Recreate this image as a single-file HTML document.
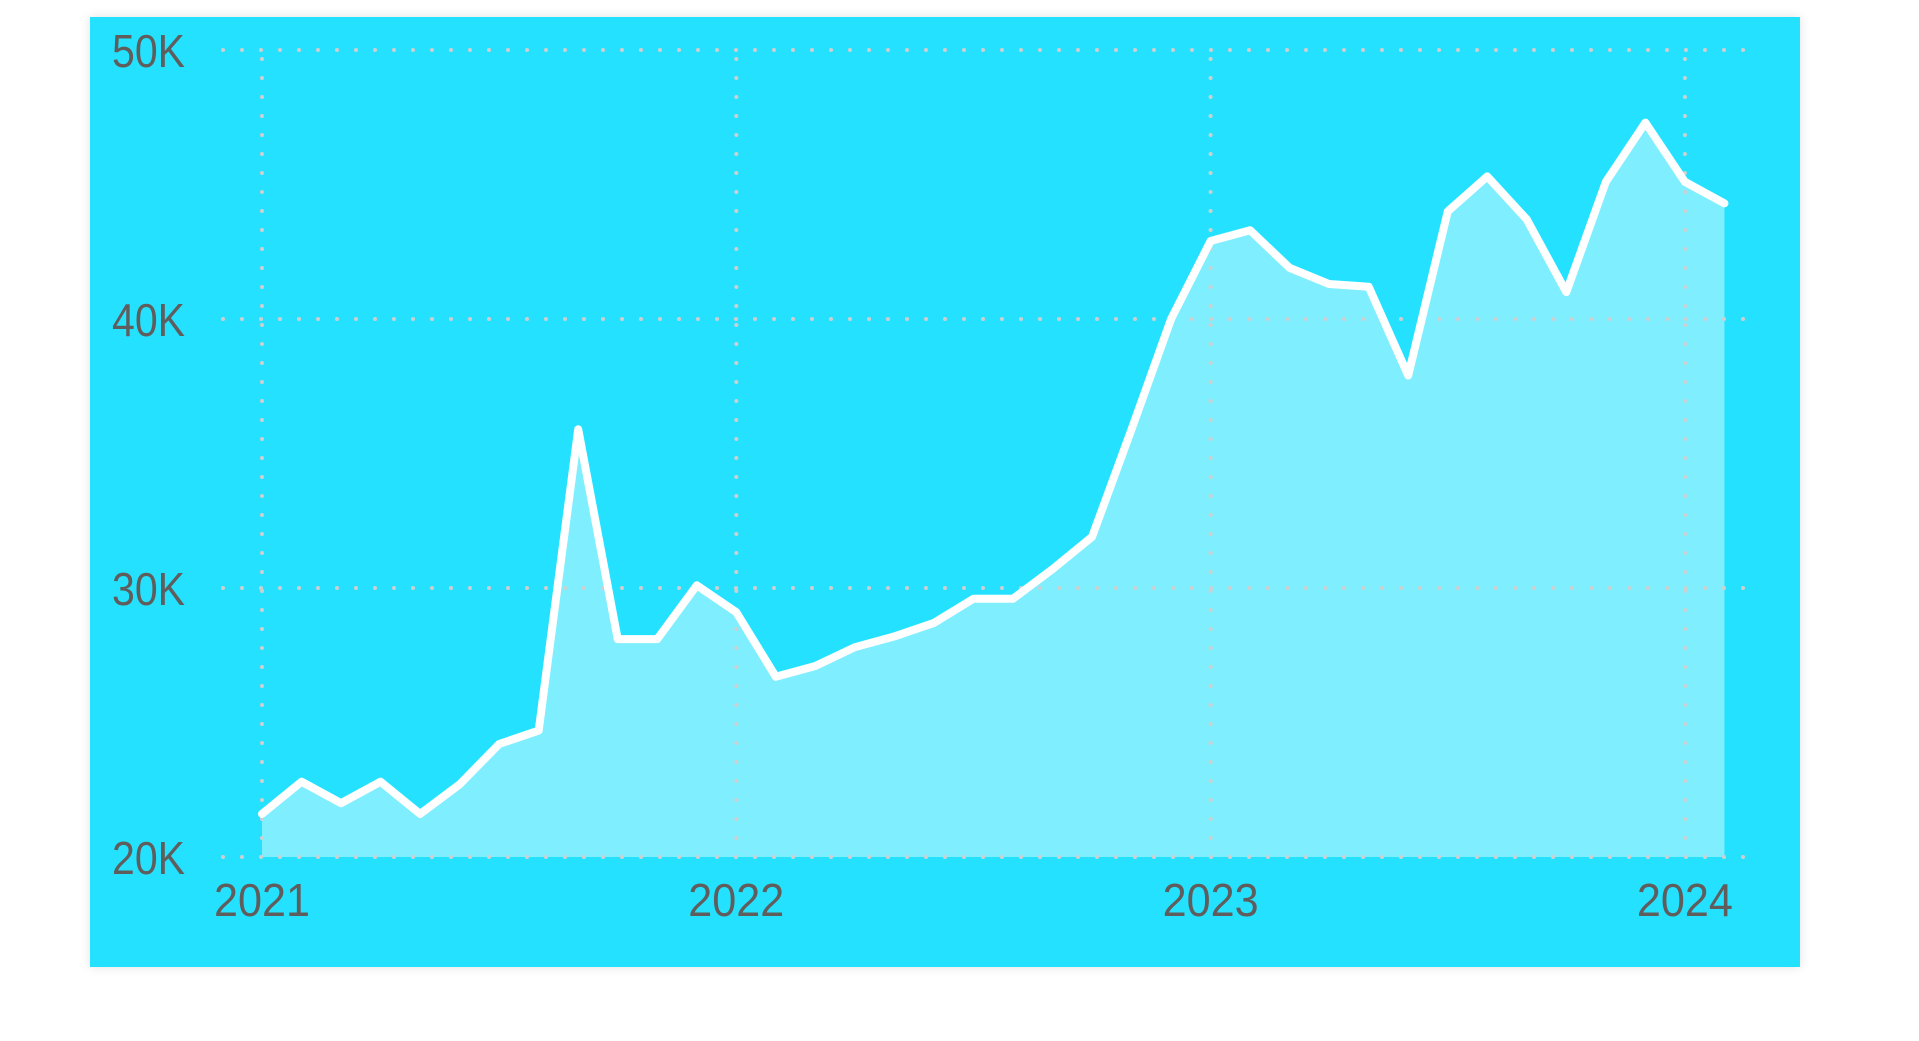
<!DOCTYPE html>
<html><head><meta charset="utf-8"><style>
body{margin:0;width:1919px;height:1041px;background:#fff;overflow:hidden;font-family:"Liberation Sans",sans-serif;}
#panel{position:absolute;left:90px;top:17px;width:1710px;height:950px;background:#24e2ff;box-shadow:0 0 10px rgba(0,0,0,0.12);}
svg{position:absolute;left:0;top:0;}
</style></head><body>
<div id="panel"></div>
<svg id="chart" width="1919" height="1041"></svg>
<script>
const yTicks=[20,30,40,50];
const yTickLabels=["20K","30K","40K","50K"];
const xTicks=[2021,2022,2023,2024];
const values=[21.6,22.8,22.0,22.8,21.6,22.7,24.2,24.7,35.9,28.1,28.1,30.1,
29.1,26.7,27.1,27.8,28.2,28.7,29.6,29.6,30.7,31.9,35.9,40.0,
42.9,43.3,41.9,41.3,41.2,37.9,44.0,45.3,43.7,41.0,45.1,47.3,
45.1,44.3];
const startYear=2021;
const NS="http://www.w3.org/2000/svg";
const svg=document.getElementById('chart');
const x0=262,pxYear=474.3;
function xs(t){return x0+(t-startYear)*pxYear;}
function ys(v){return 857-(v-20)*26.9;}
function mk(tag,attrs){const e=document.createElementNS(NS,tag);for(const k in attrs)e.setAttribute(k,attrs[k]);svg.appendChild(e);return e;}
const ptsX=values.map((v,i)=>xs(startYear+i/12));
let d='M'+ptsX[0]+','+ys(20);
values.forEach((v,i)=>{d+=' L'+ptsX[i]+','+ys(v);});
d+=' L'+ptsX[ptsX.length-1]+','+ys(20)+' Z';
const area=mk('path',{d:d,fill:'#7feeff'});


yTicks.forEach((t,i)=>{
 const g=mk('line',{x1:223,x2:1745,y1:ys(t),y2:ys(t),stroke:'#cfcfcf','stroke-width':4,'stroke-linecap':'round','stroke-dasharray':'0 19'});
 
 
 const tx=mk('text',{x:112,y:ys(t)+17,'font-size':46,fill:'#605e5c',textLength:73,lengthAdjust:'spacingAndGlyphs'});
 tx.textContent=yTickLabels[i];
 
 
});
xTicks.forEach(t=>{
 const g=mk('line',{x1:xs(t),x2:xs(t),y1:59,y2:857,stroke:'#cfcfcf','stroke-width':4,'stroke-linecap':'round','stroke-dasharray':'0 19'});
 
 
 const tx=mk('text',{x:xs(t)-48,y:916,'font-size':46,fill:'#605e5c',textLength:96,lengthAdjust:'spacingAndGlyphs'});
 tx.textContent=t;
 
 
});
const line=mk('polyline',{points:values.map((v,i)=>ptsX[i]+','+ys(v)).join(' '),fill:'none',stroke:'#fff','stroke-width':8,'stroke-linejoin':'round','stroke-linecap':'round'});


</script>
</body></html>
